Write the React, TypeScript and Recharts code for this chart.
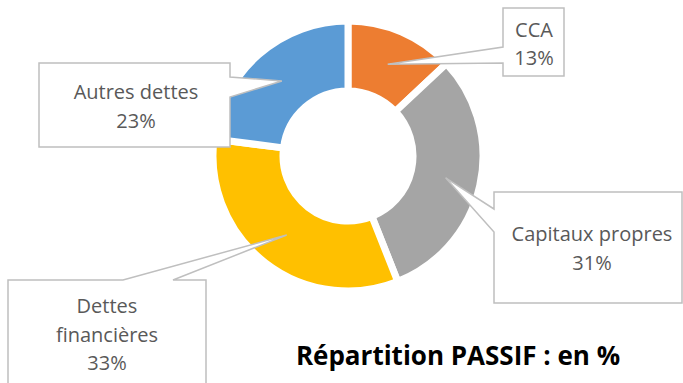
import React from 'react';
import { PieChart, Pie, Cell } from 'recharts';

// --- Data ---
const categories = ['CCA', 'Capitaux propres', 'Dettes financières', 'Autres dettes'];
const shares = [13, 31, 33, 23];
const COLORS = ['#ED7D31', '#A5A5A5', '#FFC000', '#5B9BD5'];

const data = categories.map((name, i) => ({ name, value: shares[i] }));

// callout boxes (layout only)
const BOXES = [
  { x: 503, y: 8, w: 61, h: 68, side: 'left', n1: 47, n2: 63, tx: 534, lines: [37, 65], split: false },
  { x: 494, y: 192, w: 188, h: 111, side: 'left', n1: 209, n2: 232, tx: 592, lines: [241, 270], split: false },
  { x: 8, y: 280, w: 198, h: 110, side: 'top', n1: 123, n2: 173, tx: 107, lines: [313, 342, 370], split: true },
  { x: 39, y: 63, w: 191, h: 84, side: 'right', n1: 77, n2: 97, tx: 136, lines: [99, 128], split: false },
];

const RAD = Math.PI / 180;

const renderCallout = (props: any) => {
  const { cx, cy, midAngle, innerRadius, outerRadius, index, name, value } = props;
  const b = BOXES[index];
  const r = (innerRadius + outerRadius) / 2;
  const tx = cx + r * Math.cos(-midAngle * RAD);
  const ty = cy + r * Math.sin(-midAngle * RAD);
  const { x, y, w, h } = b;
  let d = '';
  if (b.side === 'left') {
    d = `M${x},${y} H${x + w} V${y + h} H${x} V${b.n2} L${tx},${ty} L${x},${b.n1} Z`;
  } else if (b.side === 'right') {
    d = `M${x},${y} H${x + w} V${b.n1} L${tx},${ty} L${x + w},${b.n2} V${y + h} H${x} Z`;
  } else {
    d = `M${x},${y} H${b.n1} L${tx},${ty} L${b.n2},${y} H${x + w} V${y + h} H${x} Z`;
  }
  const textLines = b.split ? [...name.split(' '), `${value}%`] : [name, `${value}%`];
  return (
    <g key={`callout-${index}`}>
      <path d={d} fill="#fff" stroke="#BFBFBF" strokeWidth={1.5} />
      {textLines.map((t: string, i: number) => (
        <text key={i} x={b.tx} y={b.lines[i]} textAnchor="middle" fill="#595959"
          style={{ fontFamily: '"Open Sans", sans-serif', fontSize: 20 }}>
          {t}
        </text>
      ))}
    </g>
  );
};

export default function App() {
  return (
    <div style={{ position: 'absolute', left: 0, top: 0, width: 683, height: 383, background: '#fff', overflow: 'hidden' }}>
      <PieChart width={683} height={383} margin={{ top: 0, right: 0, bottom: 0, left: 0 }}>
        <Pie
          data={data}
          dataKey="value"
          nameKey="name"
          cx={348}
          cy={156}
          innerRadius={65}
          outerRadius={135}
          startAngle={90}
          endAngle={-270}
          stroke="#fff"
          strokeWidth={7}
          label={renderCallout}
          labelLine={false}
          isAnimationActive={false}
        >
          {data.map((entry, index) => (
            <Cell key={`cell-${index}`} fill={COLORS[index % COLORS.length]} />
          ))}
        </Pie>
      </PieChart>
      <svg width={683} height={383} style={{ position: 'absolute', left: 0, top: 0, pointerEvents: 'none' }}>
        <text x={458} y={365} textAnchor="middle" fill="#000"
          style={{ fontFamily: '"Open Sans", sans-serif', fontWeight: 700, fontSize: 26 }}>
          Répartition PASSIF : en %
        </text>
      </svg>
    </div>
  );
}
